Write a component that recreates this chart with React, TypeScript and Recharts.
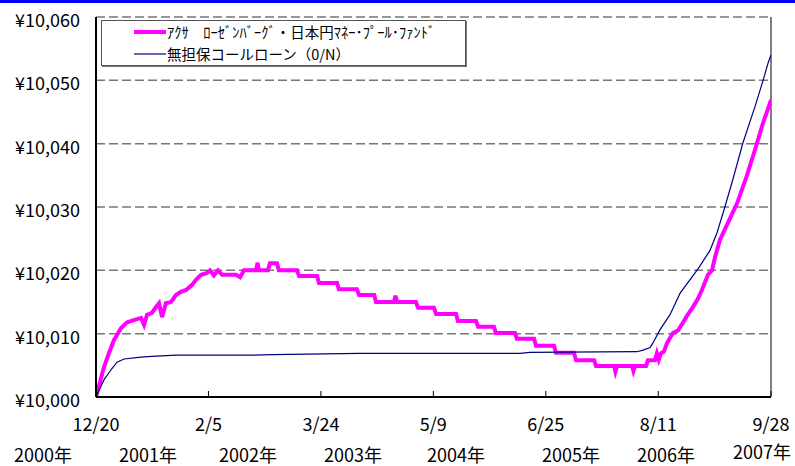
import React from "react";
import { LineChart, Line, XAxis, YAxis, CartesianGrid, Legend, ReferenceLine } from "recharts";

const fundName = "ｱｸｻ　ﾛｰｾﾞﾝﾊﾞｰｸﾞ・日本円ﾏﾈｰ･ﾌﾟｰﾙ･ﾌｧﾝﾄﾞ";
const callName = "無担保コールローン（0/N）";
const seriesOrder = [fundName, callName];

const fundDates = [
  "2000-12-20", "2001-01-18", "2001-02-06", "2001-02-24", "2001-03-22", "2001-04-13", "2001-06-03", "2001-06-14",
  "2001-06-25", "2001-07-13", "2001-07-28", "2001-08-08", "2001-08-19", "2001-09-02", "2001-09-21", "2001-10-09",
  "2001-10-27", "2001-11-15", "2001-12-07", "2001-12-21", "2002-01-09", "2002-01-31", "2002-02-11", "2002-02-25",
  "2002-03-12", "2002-03-27", "2002-05-17", "2002-06-01", "2002-06-15", "2002-07-29", "2002-08-04", "2002-08-09",
  "2002-09-11", "2002-09-18", "2002-10-14", "2002-10-21", "2002-12-26", "2003-01-03", "2003-03-10", "2003-03-17",
  "2003-05-22", "2003-05-29", "2003-08-03", "2003-08-11", "2003-10-05", "2003-10-12", "2003-12-17", "2003-12-22",
  "2003-12-28", "2004-03-06", "2004-03-14", "2004-05-11", "2004-05-19", "2004-07-31", "2004-08-07", "2004-10-12",
  "2004-10-20", "2004-12-17", "2004-12-24", "2005-03-04", "2005-03-11", "2005-05-13", "2005-05-20", "2005-07-25",
  "2005-08-01", "2005-10-06", "2005-10-14", "2005-12-19", "2005-12-26", "2006-03-02", "2006-03-07", "2006-03-13",
  "2006-05-07", "2006-05-12", "2006-05-18", "2006-06-27", "2006-07-04", "2006-07-30", "2006-08-06", "2006-08-13",
  "2006-08-21", "2006-09-01", "2006-09-12", "2006-09-23", "2006-10-04", "2006-10-22", "2006-11-06", "2006-11-24",
  "2006-12-16", "2007-01-03", "2007-01-18", "2007-02-09", "2007-02-24", "2007-03-07", "2007-03-25", "2007-04-23",
  "2007-05-26", "2007-07-02", "2007-07-31", "2007-08-30", "2007-09-17", "2007-09-28",
];
const fundValues = [
  10000, 10004.7, 10007.0, 10009.0, 10010.9, 10011.8, 10012.5, 10011.4,
  10013.0, 10013.3, 10014.2, 10014.8, 10012.6, 10014.8, 10015.0, 10016.1,
  10016.6, 10016.9, 10017.7, 10018.5, 10019.3, 10019.6, 10020.0, 10019.2,
  10020.0, 10019.3, 10019.3, 10018.9, 10020.0, 10020.0, 10021.2, 10020.0,
  10020.0, 10021.1, 10021.1, 10020.0, 10020.0, 10019.1, 10019.1, 10018.0,
  10018.0, 10017.0, 10017.0, 10016.1, 10016.1, 10015.0, 10015.0, 10016.0,
  10015.0, 10015.0, 10014.1, 10014.1, 10013.1, 10013.1, 10012.0, 10012.0,
  10011.1, 10011.1, 10010.1, 10010.1, 10009.2, 10009.2, 10008.1, 10008.1,
  10007.0, 10007.0, 10005.8, 10005.8, 10004.9, 10004.9, 10004.0, 10004.9,
  10004.9, 10004.1, 10004.9, 10004.9, 10005.8, 10005.8, 10006.9, 10005.9,
  10006.9, 10007.2, 10008.5, 10009.3, 10010.1, 10010.5, 10011.5, 10012.8,
  10014.2, 10015.5, 10016.9, 10019.3, 10020.0, 10022.1, 10024.8, 10027.5,
  10030.5, 10035.0, 10039.0, 10043.3, 10045.5, 10046.9,
];

const callDates = [
  "2000-12-20", "2001-01-18", "2001-02-13", "2001-03-07", "2001-04-02", "2001-06-03", "2001-07-13", "2001-10-09",
  "2002-07-07", "2002-09-26", "2003-08-14", "2005-03-22", "2005-04-28", "2006-05-25", "2006-06-16", "2006-07-12",
  "2006-07-22", "2006-08-17", "2006-09-23", "2006-10-30", "2007-01-03", "2007-02-16", "2007-03-14", "2007-04-12",
  "2007-05-11", "2007-06-17", "2007-07-31", "2007-08-30", "2007-09-17", "2007-09-28",
];
const callValues = [
  10000, 10002.7, 10004.3, 10005.5, 10006.0, 10006.3, 10006.4, 10006.6,
  10006.6, 10006.7, 10006.9, 10006.9, 10007.05, 10007.15, 10007.4, 10007.8,
  10008.5, 10010.6, 10013.0, 10016.4, 10020.2, 10023.1, 10025.9, 10030.0,
  10034.3, 10040.1, 10045.8, 10050.0, 10052.7, 10054.0,
];

const tickDates = ["2000-12-20", "2002-02-05", "2003-03-24", "2004-05-09", "2005-06-25", "2006-08-11", "2007-09-28"];
const yTicks = [10000, 10010, 10020, 10030, 10040, 10050, 10060];
const yearLabels = ["2000年", "2001年", "2002年", "2003年", "2004年", "2005年", "2006年", "2007年"];
// layout (pixel centres) of the year text boxes under the axis
const yearLabelX = [43, 148, 248, 353, 456, 571, 666, 762];
const yearLabelY = [454, 454, 454, 454, 454, 454, 454, 451];

const toDay = (s: string) => {
  const [y, m, d] = s.split("-").map(Number);
  return Date.UTC(y, m - 1, d) / 86400000;
};

const fundData = fundDates.map((d, i) => ({ t: toDay(d), v: fundValues[i] }));
const callData = callDates.map((d, i) => ({ t: toDay(d), v: callValues[i] }));

const FONT = "'Noto Sans CJK JP', 'Noto Sans', sans-serif";

const XTick = (props: any) => {
  const { x, y, payload } = props;
  const dt = new Date(payload.value * 86400000);
  const label = `${dt.getUTCMonth() + 1}/${dt.getUTCDate()}`;
  return (
    <g>
      <line x1={x} y1={y - 1} x2={x} y2={y - 6} stroke="#000" strokeWidth={1} />
      <text x={x} y={y + 26} textAnchor="middle" dominantBaseline="central" fontSize={18} fill="#000" fontFamily={FONT}>
        {label}
      </text>
    </g>
  );
};

const YTick = (props: any) => {
  const { x, y, payload } = props;
  return (
    <text x={x} y={y + 2} textAnchor="end" dominantBaseline="central" fontSize={18} fill="#000" fontFamily={FONT}>
      {"¥" + Number(payload.value).toLocaleString("en-US")}
    </text>
  );
};

const LegendBox = (props: any) => {
  const items = [...(props.payload || [])].sort(
    (a: any, b: any) => seriesOrder.indexOf(a.value) - seriesOrder.indexOf(b.value)
  );
  return (
    <div
      style={{
        width: 365,
        height: 46,
        boxSizing: "border-box",
        border: "1px solid #555",
        boxShadow: "1px 1px 0 #777",
        background: "#fff",
        paddingLeft: 32,
        fontFamily: FONT,
        fontSize: 14.5,
        color: "#000",
      }}
    >
      {items.map((e: any, i: number) => (
        <div key={i} style={{ display: "flex", alignItems: "center", height: 22, whiteSpace: "nowrap" }}>
          <svg width={33} height={8} style={{ display: "block" }}>
            <line x1={0} y1={4} x2={32} y2={4} stroke={e.color} strokeWidth={e.value === fundName ? 4 : 1.2} />
          </svg>
          <span style={{ lineHeight: "22px" }}>{e.value}</span>
        </div>
      ))}
    </div>
  );
};

export default function App() {
  const x0 = toDay(tickDates[0]);
  const x1 = toDay(tickDates[tickDates.length - 1]);
  return (
    <div style={{ position: "absolute", left: 0, top: 0, width: 795, height: 466, background: "#fff", overflow: "hidden" }}>
      <div style={{ position: "absolute", left: 0, top: 0, width: 795, height: 3, background: "#0000ff" }} />
      <LineChart
        width={795}
        height={466}
        margin={{ top: 17, right: 24, bottom: 0, left: 0 }}
        style={{ fontFamily: FONT }}
      >
        <CartesianGrid vertical={false} stroke="#777" strokeWidth={1.5} strokeDasharray="9 4" />
        <XAxis
          dataKey="t"
          type="number"
          domain={[x0, x1]}
          ticks={tickDates.map(toDay)}
          allowDataOverflow
          axisLine={{ stroke: "#000", strokeWidth: 2 }}
          tickLine={false}
          tickSize={0}
          tickMargin={0}
          tick={<XTick />}
          interval={0}
          height={69}
        />
        <YAxis
          type="number"
          domain={[10000, 10060]}
          ticks={yTicks}
          allowDataOverflow
          width={96}
          axisLine={{ stroke: "#000", strokeWidth: 2 }}
          tickLine={false}
          tickSize={0}
          tickMargin={16}
          tick={<YTick />}
          interval={0}
        />
        <ReferenceLine x={x1} stroke="#555" strokeWidth={1.5} ifOverflow="visible" />
        <Line
          data={fundData}
          dataKey="v"
          name={fundName}
          type="linear"
          stroke="#ff00ff"
          strokeWidth={4}
          dot={false}
          isAnimationActive={false}
          legendType="line"
        />
        <Line
          data={callData}
          dataKey="v"
          name={callName}
          type="linear"
          stroke="#000080"
          strokeWidth={1.2}
          dot={false}
          isAnimationActive={false}
          legendType="line"
        />
        <Legend
          layout="vertical"
          align="center"
          verticalAlign="middle"
          content={<LegendBox />}
          wrapperStyle={{ position: "absolute", left: 101, top: 20, width: 365, height: 46 }}
        />
      </LineChart>
      {yearLabels.map((s, i) => (
        <div
          key={s}
          style={{
            position: "absolute",
            left: yearLabelX[i],
            top: yearLabelY[i] - 9,
            transform: "translateX(-50%)",
            fontFamily: FONT,
            fontSize: 18,
            lineHeight: "18px",
            height: 18,
            color: "#000",
            whiteSpace: "nowrap",
          }}
        >
          {s}
        </div>
      ))}
    </div>
  );
}
